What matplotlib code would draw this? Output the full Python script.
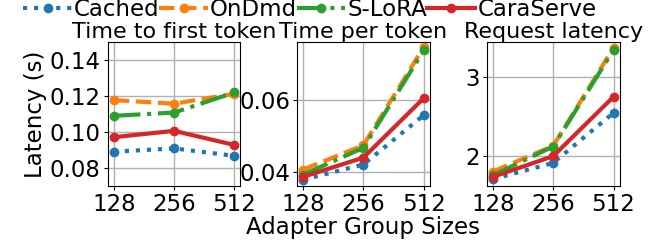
import matplotlib
matplotlib.use('Agg')
import matplotlib.pyplot as plt

plt.rcParams['font.size'] = 16.5

sizes = ['128', '256', '512']
systems = ['Cached', 'OnDmd', 'S-LoRA', 'CaraServe']
titles = ['Time to first token', 'Time per token', 'Request latency']

# latency (s) per system, per adapter group size
ttft = {
    'Cached': [0.0891, 0.0909, 0.0868],
    'OnDmd': [0.1176, 0.1156, 0.1211],
    'S-LoRA': [0.1089, 0.1107, 0.1218],
    'CaraServe': [0.0971, 0.1006, 0.0928],
}
tpt = {
    'Cached': [0.0380, 0.0422, 0.0558],
    'OnDmd': [0.0408, 0.0475, 0.0746],
    'S-LoRA': [0.0394, 0.0468, 0.0737],
    'CaraServe': [0.0388, 0.0441, 0.0605],
}
req = {
    'Cached': [1.713, 1.919, 2.552],
    'OnDmd': [1.810, 2.134, 3.375],
    'S-LoRA': [1.763, 2.126, 3.345],
    'CaraServe': [1.742, 2.004, 2.755],
}

styles = {
    'Cached': dict(color='#1f77b4', ls=':'),
    'OnDmd': dict(color='#ff7f0e', ls='--'),
    'S-LoRA': dict(color='#2ca02c', ls='-.'),
    'CaraServe': dict(color='#d62728', ls='-'),
}

fig = plt.figure(figsize=(6.57, 2.43), dpi=100)
lefts = [0.164, 0.452, 0.741]
axes = [fig.add_axes([l, 0.235, 0.202, 0.593]) for l in lefts]

x = range(len(sizes))
for ax, data, title in zip(axes, [ttft, tpt, req], titles):
    for s in systems:
        ax.plot(x, data[s], marker='o', lw=3, ms=6, label=s, **styles[s])
    ax.set_xticks(list(x))
    ax.set_xticklabels(sizes)
    ax.grid(True, color='#b0b0b0', lw=1)
    ax.set_title(title, fontsize=16, pad=0)
    ax.tick_params(length=3, pad=2)

axes[0].set_ylim(0.0702, 0.1498)
axes[0].set_yticks([0.08, 0.10, 0.12, 0.14])
axes[0].set_yticklabels(['0.08', '0.10', '0.12', '0.14'])
axes[1].set_ylim(0.0363, 0.0761)
axes[1].set_yticks([0.04, 0.06])
axes[1].set_yticklabels(['0.04', '0.06'])
axes[2].set_ylim(1.628, 3.45)
axes[2].set_yticks([2, 3])

axes[0].set_ylabel('Latency (s)', labelpad=2)
axes[1].set_xlabel('Adapter Group Sizes', labelpad=0)

handles, labels = axes[0].get_legend_handles_labels()
fig.legend(handles, labels, loc='upper center', bbox_to_anchor=(0.472, 1.01),
           ncol=4, frameon=False, fontsize=16.5, handlelength=2.1,
           handletextpad=0.1, columnspacing=0.0, borderaxespad=0,
           borderpad=0)

fig.savefig('out.png', dpi=100)
